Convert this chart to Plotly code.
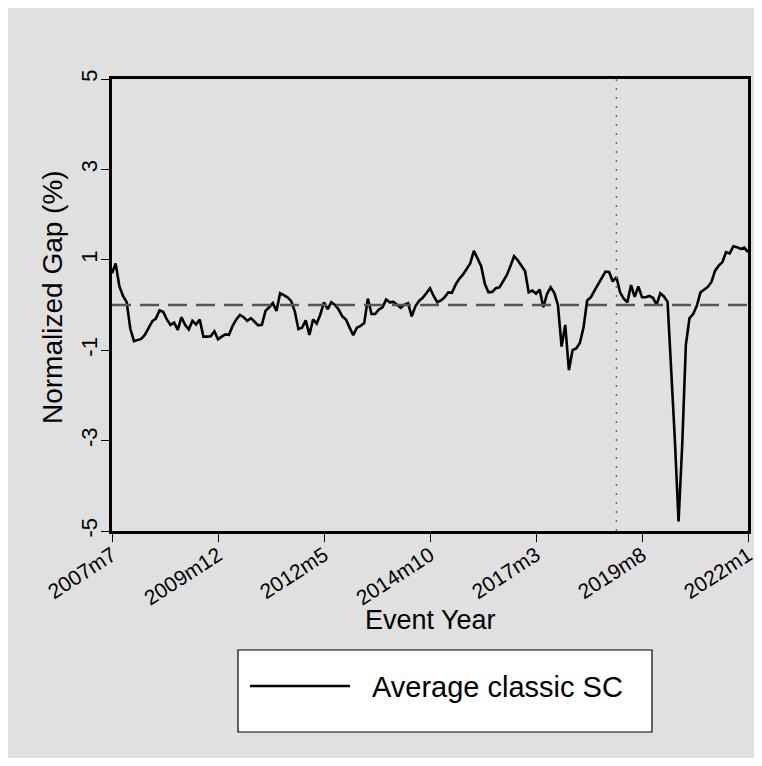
import plotly.graph_objects as go

# Monthly observations 2007m7 .. 2022m1 (175 months)
start_year, start_month = 2007, 7
n_months = 175
month_labels = []
for i in range(n_months):
    y = start_year + (start_month - 1 + i) // 12
    m = (start_month - 1 + i) % 12 + 1
    month_labels.append(f"{y}m{m}")

gap_values = [
    0.70, 0.92, 0.42, 0.20, 0.07, -0.52, -0.80, -0.77, -0.75, -0.66,
    -0.50, -0.36, -0.30, -0.12, -0.15, -0.32, -0.44, -0.39, -0.55, -0.27,
    -0.44, -0.54, -0.35, -0.43, -0.32, -0.70, -0.70, -0.69, -0.58, -0.76,
    -0.70, -0.65, -0.66, -0.46, -0.32, -0.22, -0.27, -0.35, -0.29, -0.37,
    -0.45, -0.44, -0.13, -0.05, 0.04, -0.13, 0.26, 0.22, 0.17, 0.09,
    -0.14, -0.53, -0.50, -0.34, -0.66, -0.32, -0.41, -0.21, 0.06, -0.09,
    0.06, 0.00, -0.10, -0.25, -0.32, -0.50, -0.67, -0.50, -0.46, -0.40,
    0.14, -0.20, -0.20, -0.10, -0.05, 0.12, 0.06, 0.07, 0.01, -0.06,
    0.01, 0.04, -0.25, -0.03, 0.09, 0.16, 0.26, 0.37, 0.20, 0.06,
    0.10, 0.17, 0.28, 0.27, 0.45, 0.58, 0.67, 0.81, 0.92, 1.20,
    1.02, 0.86, 0.47, 0.28, 0.29, 0.37, 0.39, 0.53, 0.66, 0.86,
    1.08, 0.99, 0.86, 0.75, 0.28, 0.32, 0.25, 0.34, -0.05, 0.24,
    0.39, 0.27, 0.00, -0.92, -0.44, -1.44, -1.00, -0.96, -0.84, -0.50,
    0.10, 0.17, 0.32, 0.45, 0.60, 0.74, 0.73, 0.52, 0.62, 0.28,
    0.14, 0.06, 0.44, 0.18, 0.41, 0.17, 0.17, 0.20, 0.16, 0.01,
    0.26, 0.19, 0.07, -1.40, -3.00, -4.79, -3.10, -0.88, -0.29, -0.20,
    -0.02, 0.28, 0.34, 0.40, 0.51, 0.76, 0.87, 0.95, 1.17, 1.14,
    1.30, 1.28, 1.24, 1.27, 1.17,
]

x_tick_labels = ["2007m7", "2009m12", "2012m5", "2014m10", "2017m3", "2019m8", "2022m1"]
y_ticks = [-5, -3, -1, 1, 3, 5]
event_label = "2019m1"
legend_label = "Average classic SC"
x_title = "Event Year"
y_title = "Normalized Gap (%)"

x_idx = list(range(n_months))
x_tick_pos = [month_labels.index(t) for t in x_tick_labels]
event_pos = month_labels.index(event_label)

FONT = "Arial, Liberation Sans, sans-serif"

fig = go.Figure()
fig.add_trace(go.Scatter(
    x=x_idx, y=gap_values, mode="lines",
    line=dict(color="black", width=2.6),
    name=legend_label, showlegend=False,
    customdata=month_labels,
    hovertemplate="%{customdata}: %{y:.2f}<extra></extra>",
))

# zero reference line (dashed)
fig.add_shape(type="line", xref="paper", x0=0, x1=1, yref="y", y0=0, y1=0,
              line=dict(color="#555555", width=2.4, dash="19px,9px"), layer="above")
# event vertical dotted line
fig.add_shape(type="line", xref="x", x0=event_pos, x1=event_pos, yref="paper", y0=0, y1=1,
              line=dict(color="#666666", width=1.5, dash="2px,7px"), layer="above")

# gray graph region with thin white margin
W, H = 762, 766
L, R, T, B = 112, 14, 79, 235
pw, ph = W - L - R, H - T - B
def px_to_paper_x(px):
    return (px - L) / pw
def px_to_paper_y(py):
    return (H - B - py) / ph
fig.add_shape(type="rect", xref="paper", yref="paper",
              x0=px_to_paper_x(8), x1=px_to_paper_x(754),
              y0=px_to_paper_y(758), y1=px_to_paper_y(8),
              fillcolor="#e0e0e0", line=dict(width=0), layer="below")

# manual legend box
fig.add_shape(type="rect", xref="paper", yref="paper",
              x0=px_to_paper_x(238), x1=px_to_paper_x(652),
              y0=px_to_paper_y(732), y1=px_to_paper_y(650),
              fillcolor="white", line=dict(color="black", width=1.2), layer="below")
fig.add_shape(type="line", xref="paper", yref="paper",
              x0=px_to_paper_x(250), x1=px_to_paper_x(350),
              y0=px_to_paper_y(686), y1=px_to_paper_y(686),
              line=dict(color="black", width=2.6))
fig.add_annotation(xref="paper", yref="paper",
                   x=px_to_paper_x(370), y=px_to_paper_y(687),
                   xanchor="left", yanchor="middle", showarrow=False,
                   text=legend_label, font=dict(family=FONT, size=29, color="black"))

# axis titles
fig.add_annotation(xref="paper", yref="paper",
                   x=px_to_paper_x(430), y=px_to_paper_y(620),
                   xanchor="center", yanchor="middle", showarrow=False,
                   text=x_title, font=dict(family=FONT, size=27, color="black"))
fig.add_annotation(xref="paper", yref="paper",
                   x=px_to_paper_x(52), y=px_to_paper_y(297),
                   xanchor="center", yanchor="middle", showarrow=False, textangle=-90,
                   text=y_title, font=dict(family=FONT, size=28, color="black"))

fig.update_layout(
    width=W, height=H,
    margin=dict(l=L, r=R, t=T, b=B, pad=0),
    paper_bgcolor="white", plot_bgcolor="white",
    font=dict(family=FONT, color="black"),
    showlegend=False,
)
fig.update_xaxes(
    range=[0, n_months - 1], automargin=False,
    tickmode="array", tickvals=x_tick_pos, ticktext=x_tick_labels,
    tickangle=-33, tickfont=dict(size=21),
    ticks="outside", ticklen=8, tickwidth=1.2, tickcolor="black",
    ticklabelstandoff=-7,
    showline=True, linecolor="black", linewidth=2.8, mirror=True,
    showgrid=False, zeroline=False,
)
fig.update_yaxes(
    range=[-5, 5], automargin=False,
    tickmode="array", tickvals=y_ticks, ticktext=[str(v) for v in y_ticks],
    tickangle=-90, tickfont=dict(size=22),
    ticks="outside", ticklen=8, tickwidth=1.2, tickcolor="black",
    ticklabelstandoff=-5,
    showline=True, linecolor="black", linewidth=2.8, mirror=True,
    showgrid=False, zeroline=False,
)

fig.write_html("out.html")
